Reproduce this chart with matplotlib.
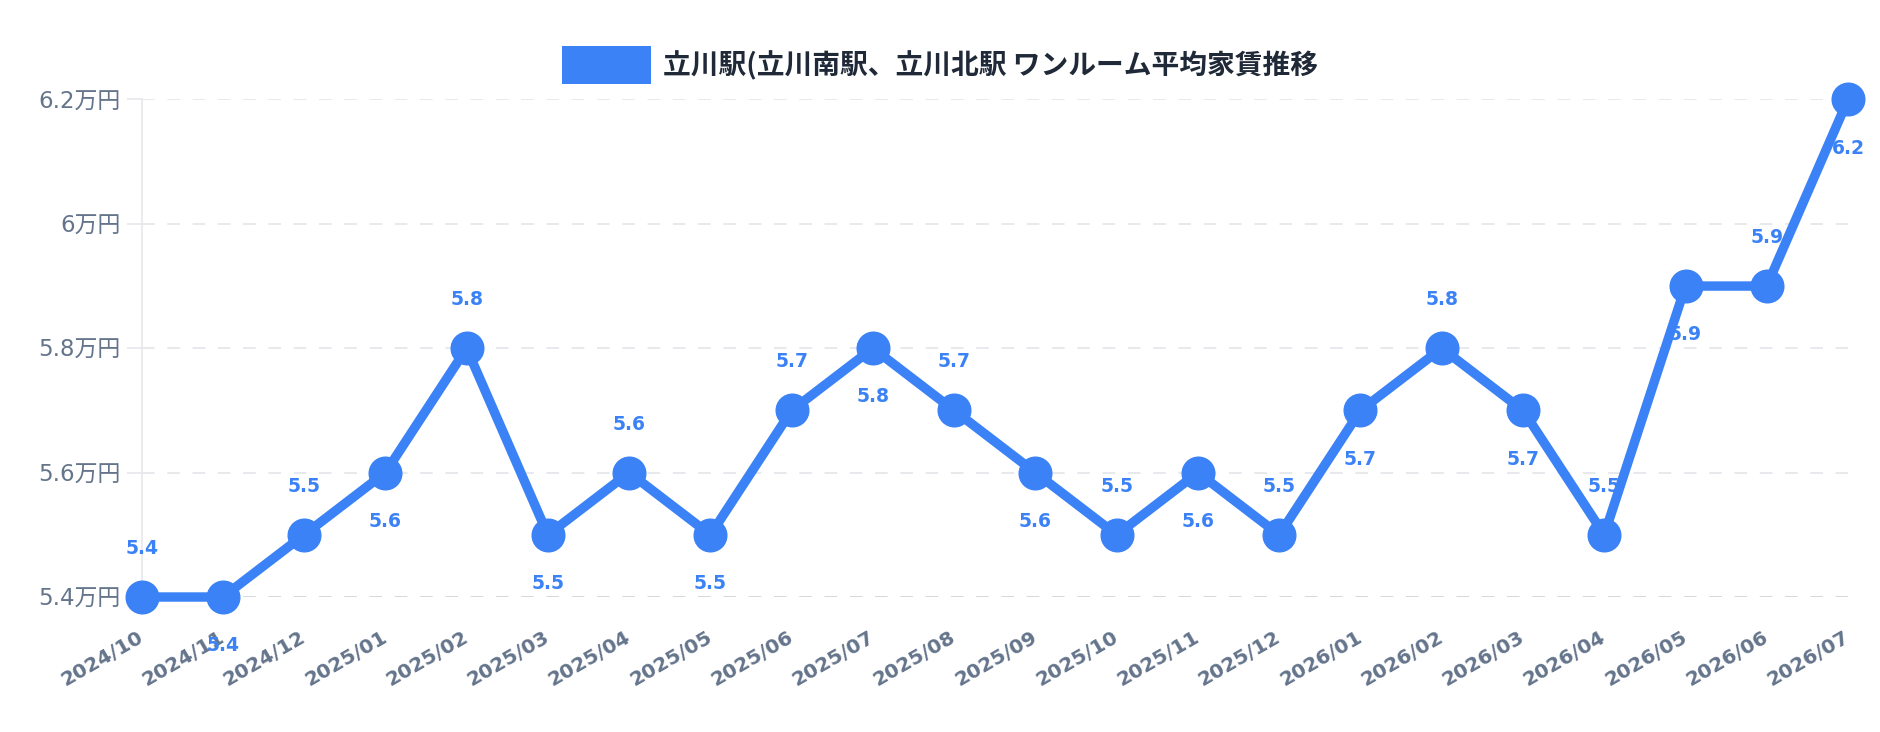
import matplotlib
matplotlib.use("Agg")
import matplotlib.pyplot as plt
from matplotlib.patches import Patch

# データ
months = ['2024/10', '2024/11', '2024/12', '2025/01', '2025/02', '2025/03',
          '2025/04', '2025/05', '2025/06', '2025/07', '2025/08', '2025/09',
          '2025/10', '2025/11', '2025/12', '2026/01', '2026/02', '2026/03',
          '2026/04', '2026/05', '2026/06', '2026/07']
rent = [5.4, 5.4, 5.5, 5.6, 5.8, 5.5, 5.6, 5.5, 5.7, 5.8, 5.7, 5.6,
        5.5, 5.6, 5.5, 5.7, 5.8, 5.7, 5.5, 5.9, 5.9, 6.2]
yticks = [5.4, 5.6, 5.8, 6.0, 6.2]
ytick_labels = ['5.4万円', '5.6万円', '5.8万円', '6万円', '6.2万円']
title = '立川駅(立川南駅、立川北駅 ワンルーム平均家賃推移'

BLUE = '#3b82f6'
GRAY = '#64748b'
GRID = '#e5e7eb'
CJK = ['Noto Sans CJK JP', 'DejaVu Sans']

plt.rcParams['font.family'] = CJK

fig = plt.figure(figsize=(18.8, 7.32), dpi=100)
ax = fig.add_axes([0.0753, 0.1844, 0.9077, 0.6797])

x = list(range(len(months)))
ax.plot(x, rent, color=BLUE, lw=6.8, marker='o', ms=23.5,
        solid_joinstyle='round', clip_on=False, zorder=3)

# 値ラベル（上下交互）
for i, v in enumerate(rent):
    dy = 35 if i % 2 == 0 else -35
    ax.annotate(f'{v:.1f}', (i, v), xytext=(0, dy), textcoords='offset points',
                ha='center', va='center', color=BLUE, fontsize=13.5,
                fontweight='bold', family='DejaVu Sans',
                annotation_clip=False, zorder=2.6)

ax.set_xlim(0, len(months) - 1)
ax.set_ylim(yticks[0], yticks[-1])
ax.set_yticks(yticks)
ax.set_yticklabels(ytick_labels, fontsize=16.5, color=GRAY,
                   family=['DejaVu Sans', 'Noto Sans CJK JP'])
ax.set_xticks(x)
ax.set_xticklabels(months, rotation=30, ha='right', va='center',
                   rotation_mode='anchor', fontsize=14.5, fontweight='bold',
                   color=GRAY, family='DejaVu Sans')
ax.tick_params(axis='x', length=0, pad=28)
ax.tick_params(axis='y', length=11, width=1.2, color=GRID, pad=4)

for s in ['top', 'right', 'bottom']:
    ax.spines[s].set_visible(False)
ax.spines['left'].set_color(GRID)
ax.spines['left'].set_linewidth(1.2)

for y in yticks:
    c = '#d1d5db' if y == yticks[0] else GRID
    ax.axhline(y, color=c, lw=1.3, ls=(0, (7, 7)), zorder=1)

fig.legend(handles=[Patch(facecolor=BLUE, edgecolor='none')], labels=[title],
           loc='center', bbox_to_anchor=(0.5, 0.911), frameon=False,
           handlelength=3.2, handleheight=1.75, handletextpad=0.45,
           prop={'family': CJK, 'size': 20, 'weight': 'bold'},
           labelcolor='#1f2937')

fig.savefig('out.png', dpi=100)
